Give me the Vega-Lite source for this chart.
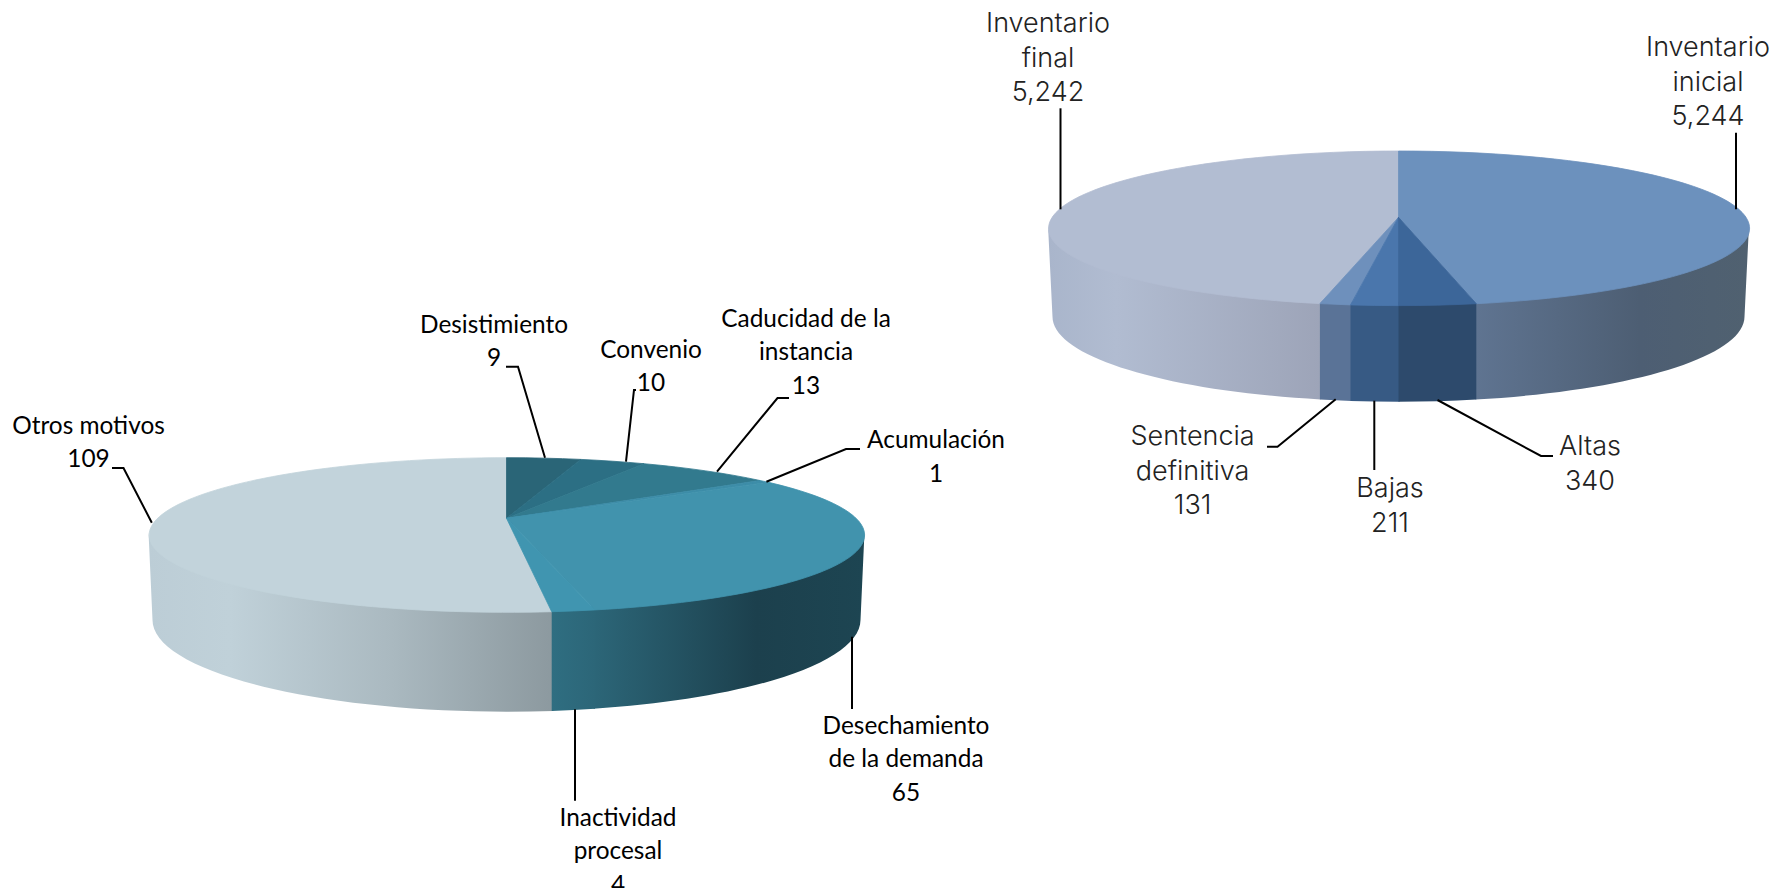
{"$schema":"https://vega.github.io/schema/vega-lite/v6.json","width":1781,"height":888,"padding":0,"autosize":{"type":"none"},"background":"white","config":{"view":{"stroke":null}},
"data":{"values":[
{"grafico":"Motivos","categoria":"Otros motivos","valor":109,"etiqueta":"Otros motivos\n109"},
{"grafico":"Motivos","categoria":"Desistimiento","valor":9,"etiqueta":"Desistimiento\n9"},
{"grafico":"Motivos","categoria":"Convenio","valor":10,"etiqueta":"Convenio\n10"},
{"grafico":"Motivos","categoria":"Caducidad de la instancia","valor":13,"etiqueta":"Caducidad de la\ninstancia\n13"},
{"grafico":"Motivos","categoria":"Acumulación","valor":1,"etiqueta":"Acumulación\n1"},
{"grafico":"Motivos","categoria":"Desechamiento de la demanda","valor":65,"etiqueta":"Desechamiento\nde la demanda\n65"},
{"grafico":"Motivos","categoria":"Inactividad procesal","valor":4,"etiqueta":"Inactividad\nprocesal\n4"},
{"grafico":"Movimientos","categoria":"Inventario final","valor":5242,"etiqueta":"Inventario\nfinal\n5,242"},
{"grafico":"Movimientos","categoria":"Inventario inicial","valor":5244,"etiqueta":"Inventario\ninicial\n5,244"},
{"grafico":"Movimientos","categoria":"Sentencia definitiva","valor":131,"etiqueta":"Sentencia\ndefinitiva\n131"},
{"grafico":"Movimientos","categoria":"Bajas","valor":211,"etiqueta":"Bajas\n211"},
{"grafico":"Movimientos","categoria":"Altas","valor":340,"etiqueta":"Altas\n340"}
]},
"encoding":{
"x":{"field":"grafico","type":"nominal","axis":null,"scale":{"type":"point","padding":0,"domain":["Motivos","Movimientos"],"range":[506.5,1398.5]}},
"y":{"field":"grafico","type":"nominal","axis":null,"scale":{"type":"point","padding":0,"domain":["Motivos","Movimientos"],"range":[535,228.3]}}
},
"resolve":{"scale":{"shape":"independent"}},
"layer":[
{"transform":[{"filter":"datum.categoria==='Otros motivos'"}],"mark":{"type":"point","size":4,"opacity":1,"filled":true,"strokeWidth":0,"shape":"M-358,-3 A358,77.3 0 0 0 47,73 L47,175.9 A354,91.7 0 0 1 -354,85 Z","fill":{"gradient":"linear","x1":0,"x2":1,"y1":0,"y2":0,"stops":[{"offset":0,"color":"#bccdd6"},{"offset":0.2,"color":"#c0d1d9"},{"offset":0.6,"color":"#aab9c0"},{"offset":1,"color":"#8c999f"}]}}},
{"transform":[{"filter":"datum.categoria==='Desechamiento de la demanda'"}],"mark":{"type":"point","size":4,"opacity":1,"filled":true,"strokeWidth":0,"shape":"M87,71 A358,77.3 0 0 0 358,-3 L354,85 A354,91.7 0 0 1 87,173.8 Z","fill":{"gradient":"linear","x1":0,"x2":1,"y1":0,"y2":0,"stops":[{"offset":0,"color":"#2c6678"},{"offset":0.6,"color":"#1c404d"},{"offset":1,"color":"#1d4552"}]}}},
{"transform":[{"filter":"datum.categoria==='Inactividad procesal'"}],"mark":{"type":"point","size":4,"opacity":1,"filled":true,"strokeWidth":0,"shape":"M45.2,73 A358,77.3 0 0 0 88.5,71 L88.5,173.8 A354,91.7 0 0 1 45.2,175.9 Z","fill":{"gradient":"linear","x1":0,"x2":1,"y1":0,"y2":0,"stops":[{"offset":0,"color":"#2f6e81"},{"offset":1,"color":"#2c6678"}]}}},
{"transform":[{"filter":"datum.categoria==='Inventario final'"}],"mark":{"type":"point","size":4,"opacity":1,"filled":true,"strokeWidth":0,"shape":"M-350.5,-3 A350.5,77.3 0 0 0 -78,72 L-78,171.2 A346,85 0 0 1 -346,88.4 Z","fill":{"gradient":"linear","x1":0,"x2":1,"y1":0,"y2":0,"stops":[{"offset":0,"color":"#a9b5cb"},{"offset":0.25,"color":"#b1bcd1"},{"offset":1,"color":"#9da4b8"}]}}},
{"transform":[{"filter":"datum.categoria==='Inventario inicial'"}],"mark":{"type":"point","size":4,"opacity":1,"filled":true,"strokeWidth":0,"shape":"M77,72 A350.5,77.3 0 0 0 350.5,-3 L346,88.4 A346,85 0 0 1 77,171.2 Z","fill":{"gradient":"linear","x1":0,"x2":1,"y1":0,"y2":0,"stops":[{"offset":0,"color":"#5f7491"},{"offset":0.6,"color":"#4d5e73"},{"offset":1,"color":"#506170"}]}}},
{"transform":[{"filter":"datum.categoria==='Sentencia definitiva'"}],"mark":{"type":"point","size":4,"opacity":1,"filled":true,"strokeWidth":0,"shape":"M-78.6,72 A350.5,77.3 0 0 0 -47,73 L-47,172.6 A346,85 0 0 1 -78.6,171.2 Z","fill":"#5a7397"}},
{"transform":[{"filter":"datum.categoria==='Bajas'"}],"mark":{"type":"point","size":4,"opacity":1,"filled":true,"strokeWidth":0,"shape":"M-48,73 A350.5,77.3 0 0 0 1,74 L1,173.4 A346,85 0 0 1 -48,172.6 Z","fill":"#375a84"}},
{"transform":[{"filter":"datum.categoria==='Altas'"}],"mark":{"type":"point","size":4,"opacity":1,"filled":true,"strokeWidth":0,"shape":"M0,74 A350.5,77.3 0 0 0 77.8,72 L77.8,171.2 A346,85 0 0 1 0,173.4 Z","fill":"#2d4a6c"}},
{"mark":{"type":"point","size":4,"opacity":1,"filled":true,"strokeWidth":0.8},
"encoding":{
"color":{"field":"categoria","type":"nominal","legend":null,"scale":{"domain":["Otros motivos","Desistimiento","Convenio","Caducidad de la instancia","Acumulación","Desechamiento de la demanda","Inactividad procesal","Inventario final","Inventario inicial","Sentencia definitiva","Bajas","Altas"],"range":["#c2d3db","#2a6577","#2c6f84","#327a8e","#3d8da8","#4193ad","#4095b0","#b2bdd2","#6c91bd","#6e90bc","#4a76ac","#3c6699"]}},
"stroke":{"field":"categoria","type":"nominal","legend":null,"scale":{"domain":["Otros motivos","Desistimiento","Convenio","Caducidad de la instancia","Acumulación","Desechamiento de la demanda","Inactividad procesal","Inventario final","Inventario inicial","Sentencia definitiva","Bajas","Altas"],"range":["#c2d3db","#2a6577","#2c6f84","#327a8e","#3d8da8","#4193ad","#4095b0","#b2bdd2","#6c91bd","#6e90bc","#4a76ac","#3c6699"]}},
"shape":{"field":"categoria","type":"nominal","legend":null,"scale":{"domain":["Otros motivos","Desistimiento","Convenio","Caducidad de la instancia","Acumulación","Desechamiento de la demanda","Inactividad procesal","Inventario final","Inventario inicial","Sentencia definitiva","Bajas","Altas"],"range":[
"M0,-16.7 L45.2,76.7 A358,77.3 0 1 1 0,-77.3 Z",
"M0,-16.7 L0,-77.3 A358,77.3 0 0 1 74.3,-75.6 Z",
"M0,-16.7 L74.3,-75.6 A358,77.3 0 0 1 137.5,-71.3 Z",
"M0,-16.7 L137.5,-71.3 A358,77.3 0 0 1 253.5,-54.5 Z",
"M0,-16.7 L253.5,-54.5 A358,77.3 0 0 1 262,-52.7 Z",
"M0,-16.7 L262,-52.7 A358,77.3 0 0 1 88.5,74.9 Z",
"M0,-16.7 L88.5,74.9 A358,77.3 0 0 1 45.2,76.7 Z",
"M0,-11 L-78.6,75.3 A350.5,77.3 0 0 1 0,-77.3 Z",
"M0,-11 L0,-77.3 A350.5,77.3 0 0 1 77.8,75.4 Z",
"M0,-11 L-48,76.6 A350.5,77.3 0 0 1 -78.6,75.3 Z",
"M0,-11 L0,77.3 A350.5,77.3 0 0 1 -48,76.6 Z",
"M0,-11 L77.8,75.4 A350.5,77.3 0 0 1 0,77.3 Z"
]}}}},
{"mark":{"type":"point","size":4,"opacity":1,"filled":false,"stroke":"#000000","strokeWidth":2},
"encoding":{"shape":{"field":"categoria","type":"nominal","legend":null,"scale":{"domain":["Otros motivos","Desistimiento","Convenio","Caducidad de la instancia","Acumulación","Desechamiento de la demanda","Inactividad procesal","Inventario final","Inventario inicial","Sentencia definitiva","Bajas","Altas"],"range":[
"M-394.5,-67 L-383,-67 L-354.7,-12.3",
"M-0.5,-168.3 L11.5,-168.3 L38.5,-77.3",
"M129.5,-145 L127.5,-145 L119.5,-73.3",
"M282.5,-137 L271,-137 L210.5,-63.3",
"M353.5,-86 L339.5,-86 L259.9,-53.3",
"M345.5,101.7 L345.5,174",
"M68.5,174.3 L68.5,265.7",
"M-338,-120 L-338,-19",
"M337.5,-95.6 L337.5,-19",
"M-131.5,218.4 L-121,218.4 L-62.8,171",
"M-24.2,172.4 L-24.2,241.7",
"M154.5,227.7 L142.5,227.7 L39,171.7"
]}}}},
{"transform":[{"filter":"datum.categoria==='Otros motivos'"}],"mark":{"type":"text","font":"Lato","fontSize":24.4,"lineBreak":"\n","lineHeight":33.5,"baseline":"middle","align":"center","color":"#000000","dx":-418,"dy":-108.2},"encoding":{"text":{"field":"etiqueta","type":"nominal"}}},
{"transform":[{"filter":"datum.categoria==='Desistimiento'"}],"mark":{"type":"text","font":"Lato","fontSize":24.4,"lineBreak":"\n","lineHeight":33.5,"baseline":"middle","align":"center","color":"#000000","dx":-12.5,"dy":-209.2},"encoding":{"text":{"field":"etiqueta","type":"nominal"}}},
{"transform":[{"filter":"datum.categoria==='Convenio'"}],"mark":{"type":"text","font":"Lato","fontSize":24.4,"lineBreak":"\n","lineHeight":33.5,"baseline":"middle","align":"center","color":"#000000","dx":144.5,"dy":-184.2},"encoding":{"text":{"field":"etiqueta","type":"nominal"}}},
{"transform":[{"filter":"datum.categoria==='Caducidad de la instancia'"}],"mark":{"type":"text","font":"Lato","fontSize":24.4,"lineBreak":"\n","lineHeight":33.5,"baseline":"middle","align":"center","color":"#000000","dx":299.5,"dy":-215.5},"encoding":{"text":{"field":"etiqueta","type":"nominal"}}},
{"transform":[{"filter":"datum.categoria==='Acumulación'"}],"mark":{"type":"text","font":"Lato","fontSize":24.4,"lineBreak":"\n","lineHeight":33.5,"baseline":"middle","align":"center","color":"#000000","dx":429.5,"dy":-93.7},"encoding":{"text":{"field":"etiqueta","type":"nominal"}}},
{"transform":[{"filter":"datum.categoria==='Desechamiento de la demanda'"}],"mark":{"type":"text","font":"Lato","fontSize":24.4,"lineBreak":"\n","lineHeight":33.5,"baseline":"middle","align":"center","color":"#000000","dx":399.5,"dy":191.5},"encoding":{"text":{"field":"etiqueta","type":"nominal"}}},
{"transform":[{"filter":"datum.categoria==='Inactividad procesal'"}],"mark":{"type":"text","font":"Lato","fontSize":24.4,"lineBreak":"\n","lineHeight":33.5,"baseline":"middle","align":"center","color":"#000000","dx":111.5,"dy":283.5},"encoding":{"text":{"field":"etiqueta","type":"nominal"}}},
{"transform":[{"filter":"datum.categoria==='Inventario final'"}],"mark":{"type":"text","font":"Inter","fontWeight":300,"fontSize":27,"letterSpacing":1,"lineBreak":"\n","lineHeight":34.5,"baseline":"middle","align":"center","color":"#222222","dx":-350.5,"dy":-204.3},"encoding":{"text":{"field":"etiqueta","type":"nominal"}}},
{"transform":[{"filter":"datum.categoria==='Inventario inicial'"}],"mark":{"type":"text","font":"Inter","fontWeight":300,"fontSize":27,"letterSpacing":1,"lineBreak":"\n","lineHeight":34.5,"baseline":"middle","align":"center","color":"#222222","dx":309.5,"dy":-180.3},"encoding":{"text":{"field":"etiqueta","type":"nominal"}}},
{"transform":[{"filter":"datum.categoria==='Sentencia definitiva'"}],"mark":{"type":"text","font":"Inter","fontWeight":300,"fontSize":27,"letterSpacing":1,"lineBreak":"\n","lineHeight":34.5,"baseline":"middle","align":"center","color":"#222222","dx":-205.9,"dy":208.7},"encoding":{"text":{"field":"etiqueta","type":"nominal"}}},
{"transform":[{"filter":"datum.categoria==='Bajas'"}],"mark":{"type":"text","font":"Inter","fontWeight":300,"fontSize":27,"letterSpacing":1,"lineBreak":"\n","lineHeight":34.5,"baseline":"middle","align":"center","color":"#222222","dx":-8.5,"dy":261},"encoding":{"text":{"field":"etiqueta","type":"nominal"}}},
{"transform":[{"filter":"datum.categoria==='Altas'"}],"mark":{"type":"text","font":"Inter","fontWeight":300,"fontSize":27,"letterSpacing":1,"lineBreak":"\n","lineHeight":34.5,"baseline":"middle","align":"center","color":"#222222","dx":191.5,"dy":219},"encoding":{"text":{"field":"etiqueta","type":"nominal"}}}
]}
